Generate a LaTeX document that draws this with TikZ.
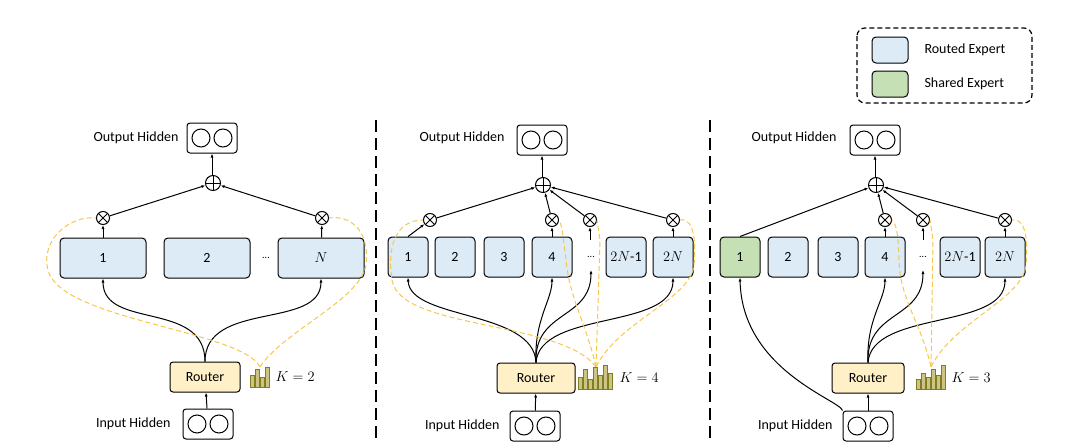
\documentclass[tikz,border=0pt]{standalone}
\usepackage{fontspec}
\setmainfont{Carlito}
\usetikzlibrary{arrows.meta}
\definecolor{eb}{HTML}{DDEBF7}
\definecolor{eg}{HTML}{C5E0B4}
\definecolor{ry}{HTML}{FFF0C8}
\definecolor{dy}{HTML}{F5C84C}
\definecolor{bar}{HTML}{7F7F20}
\begin{document}
\begin{tikzpicture}[x=1pt,y=-1pt,
 exp/.style={draw,line width=1pt,rounded corners=4pt,fill=eb,minimum height=40pt,font=\fontsize{14}{16}\selectfont},
 hid/.style={draw,line width=1pt,rounded corners=3pt,minimum width=50pt,minimum height=30pt,
   path picture={\draw[line width=1pt] ([xshift=-11pt]path picture bounding box.center) circle (9pt) ([xshift=11pt]path picture bounding box.center) circle (9pt);}},
 rout/.style={draw,line width=1pt,rounded corners=3pt,fill=ry,minimum height=30pt,font=\fontsize{14}{16}\selectfont},
 plus/.style={draw,circle,line width=1pt,minimum size=15pt,inner sep=0pt,path picture={\draw[line width=1pt] (path picture bounding box.north)--(path picture bounding box.south) (path picture bounding box.west)--(path picture bounding box.east);}},
 times/.style={draw,circle,line width=1pt,minimum size=13pt,inner sep=0pt,path picture={\draw[line width=1pt] (path picture bounding box.north west)--(path picture bounding box.south east) (path picture bounding box.north east)--(path picture bounding box.south west);}},
 ar/.style={line width=1pt,-{Latex[length=4pt,width=3pt]}},
 yd/.style={dy,dashed,line width=1pt,dash pattern=on 5pt off 3pt},
 lab/.style={font=\fontsize{14}{16}\selectfont},
 sep/.style={line width=2pt,dash pattern=on 12pt off 6pt}]
\useasboundingbox (0,0) rectangle (1080,442);
% legend
\draw[line width=1.2pt,dash pattern=on 5pt off 3pt,rounded corners=8pt] (857,28) rectangle (1032,103);
\node[exp,minimum width=36pt,minimum height=26pt] (lr) at (890,50) {};
\node[exp,fill=eg,minimum width=36pt,minimum height=26pt] (ls) at (890,84) {};
\node[anchor=west,lab] (lrt) at (921,50) {Routed Expert};
\node[anchor=west,lab] (lst) at (921,84) {Shared Expert};
% separators
\draw[sep] (376,120)--(376,440);
\draw[sep] (710,120)--(710,440);
% ===== panel 1
\node[hid] (o1) at (212,138) {};
\node[lab,anchor=east] (o1t) at (182,138) {Output Hidden};
\node[plus] (p1) at (213,183) {};
\node[exp,minimum width=86pt] (a1) at (103,258) {1};
\node[exp,minimum width=86pt] (a2) at (207,258) {2};
\node[exp,minimum width=86pt] (aN) at (321,258) {$N$};
\node (ad) at (266,258) {...};
\node[times] (t11) at (103,218) {};
\node[times] (t1N) at (322,218) {};
\node[rout,minimum width=70pt] (r1) at (205,377) {Router};
\node[hid] (i1) at (208,424) {};
\node[lab,anchor=east] (i1t) at (174,424) {Input Hidden};
\node[inner sep=0pt,minimum width=20pt,minimum height=20pt] (b1) at (260,377) {};
\foreach \x/\h in {0/12,5/18,10/10,15/20} \draw[bar,fill=ry!60!bar,line width=0.8pt] ([xshift=\x pt-10pt]b1.south) rectangle ++(4,-\h);
\node[lab,anchor=west] (k1) at (272,377) {$K=2$};
\draw[ar] (i1) -- (r1);
\draw[ar] (o1.south |- p1.north) -- (o1);
\draw[ar] (t11) -- (p1); \draw[ar] (t1N) -- (p1);
\draw[ar] (a1) -- (t11); \draw[ar] (aN) -- (t1N);
\draw[ar] (r1.north) .. controls (205,300) and (103,330) .. (a1.south);
\draw[ar] (r1.north) .. controls (205,300) and (321,330) .. (aN.south);
\draw[yd] (b1.north) .. controls (240,330) and (60,320) .. (48,270) .. controls (40,240) and (70,215) .. (t11.west);
\draw[yd] (b1.north) .. controls (285,330) and (360,300) .. (366,265) .. controls (370,230) and (350,215) .. (t1N.east);
% ===== panel 2
\node[hid] (o2) at (542,140) {};
\node[lab,anchor=east] (o2t) at (508,138) {Output Hidden};
\node[plus] (p2) at (543,185) {};
\foreach \n/\x/\t in {1/408/1,2/455/2,3/504/3,4/552/4,m/626/$2N$-1,n/673/$2N$}
  \node[exp,minimum width=40pt,inner sep=1pt] (e2\n) at (\x,257) {\t};
\node (e2d) at (591,257) {...};
\node[times] (t21) at (430,220) {};
\node[times] (t24) at (552,220) {};
\node[times] (t2d) at (590,220) {};
\node[times] (t2n) at (673,220) {};
\node[rout,minimum width=78pt] (r2) at (536,378) {Router};
\node[hid] (i2) at (535,426) {};
\node[lab,anchor=east] (i2t) at (503,426) {Input Hidden};
\node[inner sep=0pt,minimum width=38pt,minimum height=22pt] (b2) at (596,378) {};
\foreach \x/\h in {0/12,5/20,10/10,15/22,20/14,25/24,30/16} \draw[bar,fill=ry!60!bar,line width=0.8pt] ([xshift=\x pt-18pt]b2.south) rectangle ++(4,-\h);
\node[lab,anchor=west] (k2) at (616,378) {$K=4$};
\draw[ar] (i2) -- (r2);
\draw[ar] (o2.south |- p2.north) -- (o2);
\foreach \t in {t21,t24,t2d,t2n} \draw[ar] (\t) -- (p2);
\draw[ar] (e21.north) -- (t21);
\draw[ar] (e24) -- (t24); \draw[ar] (e2n) -- (t2n);
\draw[ar] (590,240) -- (t2d);
\draw[ar] (r2.north) .. controls (534,310) and (410,320) .. (e21.south);
\draw[ar] (r2.north) .. controls (534,320) and (552,300) .. (e24.south);
\draw[ar] (r2.north) .. controls (534,310) and (591,320) .. (591,270);
\draw[ar] (r2.north) .. controls (540,310) and (673,330) .. (e2n.south);
\draw[yd] (b2.north) .. controls (560,320) and (400,330) .. (392,280) .. controls (386,240) and (400,220) .. (t21.west);
\draw[yd] (b2.north) .. controls (585,320) and (570,300) .. (566,260) .. controls (563,235) and (562,225) .. (t24.east);
\draw[yd] (b2.north) -- (600,240) -- (t2d.east);
\draw[yd] (b2.north) .. controls (620,320) and (690,300) .. (694,265) .. controls (697,230) and (690,218) .. (t2n.east);
% ===== panel 3
\node[hid] (o3) at (875,140) {};
\node[lab,anchor=east] (o3t) at (840,138) {Output Hidden};
\node[plus] (p3) at (876,185) {};
\node[exp,fill=eg,minimum width=40pt] (e31) at (740,257) {1};
\foreach \n/\x/\t in {2/788/2,3/838/3,4/885/4,m/960/$2N$-1,n/1005/$2N$}
  \node[exp,minimum width=40pt,inner sep=1pt] (e3\n) at (\x,257) {\t};
\node (e3d) at (923,257) {...};
\node[times] (t34) at (885,220) {};
\node[times] (t3d) at (923,220) {};
\node[times] (t3n) at (1005,220) {};
\node[rout,minimum width=72pt] (r3) at (868,378) {Router};
\node[hid] (i3) at (868,426) {};
\node[lab,anchor=east] (i3t) at (836,426) {Input Hidden};
\node[inner sep=0pt,minimum width=33pt,minimum height=22pt] (b3) at (931,378) {};
\foreach \x/\h in {0/10,5/16,10/12,15/20,20/14,25/24} \draw[bar,fill=ry!60!bar,line width=0.8pt] ([xshift=\x pt-15pt]b3.south) rectangle ++(4,-\h);
\node[lab,anchor=west] (k3) at (948,378) {$K=3$};
\draw[ar] (i3) -- (r3);
\draw[ar] (o3.south |- p3.north) -- (o3);
\draw[ar] (e31.north) -- (p3);
\foreach \t in {t34,t3d,t3n} \draw[ar] (\t) -- (p3);
\draw[ar] (e34) -- (t34); \draw[ar] (e3n) -- (t3n);
\draw[ar] (923,240) -- (t3d);
\draw[ar] (i3.north west) .. controls (840,400) and (742,370) .. (e31.south);
\draw[ar] (r3.north) .. controls (866,320) and (885,300) .. (e34.south);
\draw[ar] (r3.north) .. controls (866,310) and (923,320) .. (923,270);
\draw[ar] (r3.north) .. controls (872,310) and (1005,330) .. (e3n.south);
\draw[yd] (b3.north) .. controls (920,320) and (900,300) .. (899,260) .. controls (898,235) and (897,225) .. (t34.east);
\draw[yd] (b3.north) -- (933,240) -- (t3d.east);
\draw[yd] (b3.north) .. controls (955,320) and (1022,300) .. (1026,265) .. controls (1029,230) and (1022,218) .. (t3n.east);
\end{tikzpicture}
\end{document}
